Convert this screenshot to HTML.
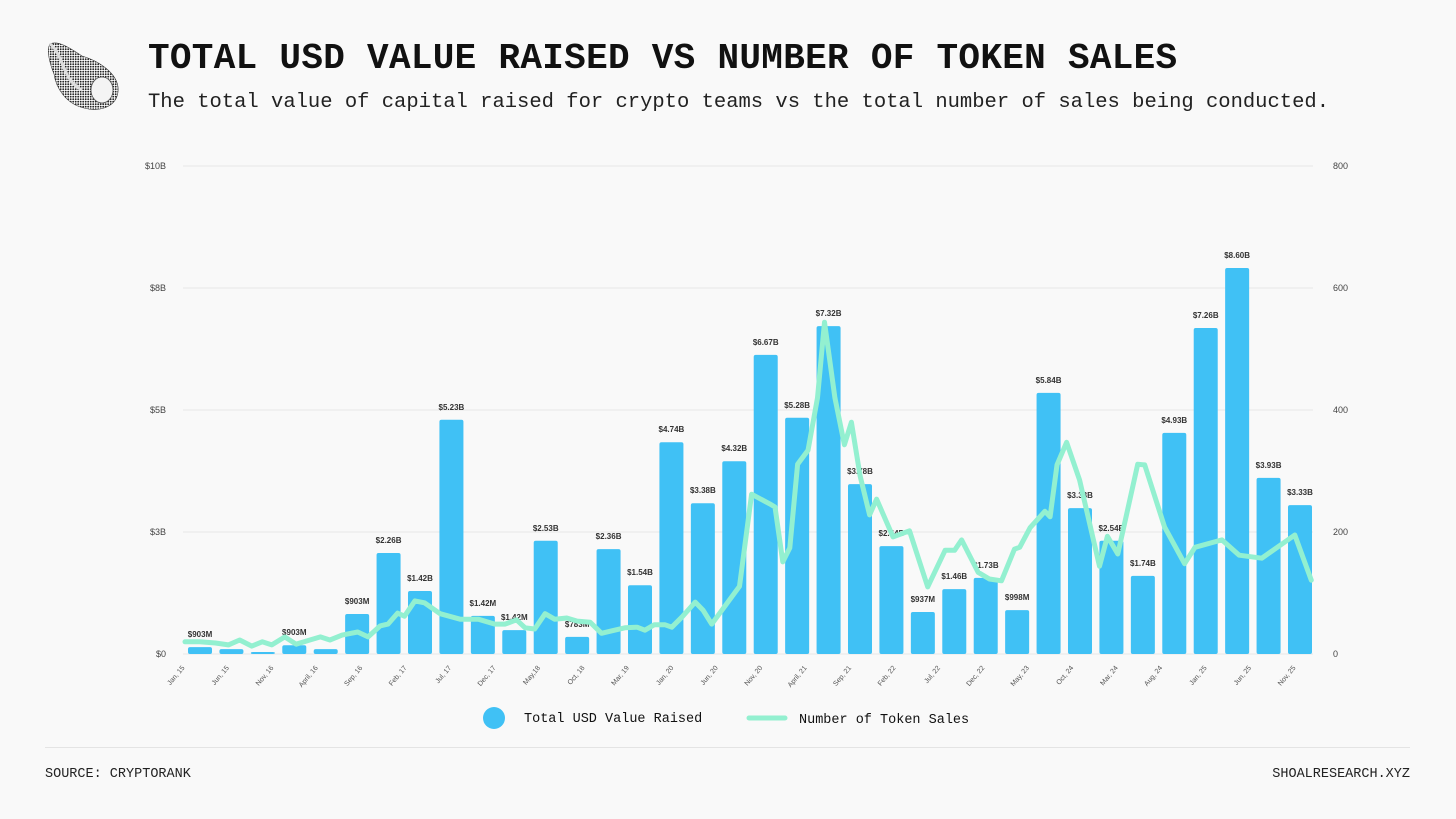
<!DOCTYPE html>
<html><head><meta charset="utf-8"><style>
html,body{margin:0;padding:0;background:#f9f9f9;}
body{width:1456px;height:819px;position:relative;overflow:hidden;font-family:"Liberation Mono",monospace;color:#111;}
.title{position:absolute;left:148px;top:38px;font-size:36px;font-weight:bold;letter-spacing:0.3px;white-space:nowrap;}
.sub{position:absolute;left:148px;top:91px;font-size:20.5px;white-space:nowrap;color:#222;}
.foot{position:absolute;top:767px;font-size:13.5px;color:#222;}
</style></head><body>
<svg style="position:absolute;left:42px;top:38px" width="80" height="75" viewBox="0 0 80 75">
<defs><pattern id="dots" width="2.5" height="2.5" patternUnits="userSpaceOnUse"><circle cx="1.2" cy="1.2" r="0.9" fill="#222"/></pattern></defs>
<path d="M8 6 C16 2 28 10 40 18 C60 24 78 38 76 54 C74 70 56 74 42 70 C24 66 14 50 12 36 C8 26 4 12 8 6Z" fill="url(#dots)" stroke="#333" stroke-width="0.6"/>
<path d="M8 6 C14 10 18 20 22 30 C26 40 32 48 40 52" fill="none" stroke="#ddd" stroke-width="3"/>
<ellipse cx="60" cy="52" rx="11" ry="13" fill="#f4f4f4" stroke="#555" stroke-width="0.8"/>
</svg>
<div class="title">TOTAL USD VALUE RAISED VS NUMBER OF TOKEN SALES</div>
<div class="sub">The total value of capital raised for crypto teams vs the total number of sales being conducted.</div>
<svg id="chart" style="position:absolute;left:0;top:0" width="1456" height="819"></svg>
<div style="position:absolute;left:45px;top:747px;width:1365px;height:1px;background:#e4e4e4"></div>
<div class="foot" style="left:45px">SOURCE: CRYPTORANK</div>
<div class="foot" style="right:46px">SHOALRESEARCH.XYZ</div>
<script>
const barValues=[0.14,0.10,0.04,0.18,0.10,0.82,2.07,1.29,4.80,0.78,0.49,2.32,0.35,2.15,1.41,4.34,3.09,3.95,6.13,4.84,6.72,3.48,2.21,0.86,1.33,1.56,0.90,5.35,2.99,2.32,1.60,4.53,6.68,7.91,3.61,3.05];
const barLabels=["$903M","","","$903M","","$903M","$2.26B","$1.42B","$5.23B","$1.42M","$1.42M","$2.53B","$783M","$2.36B","$1.54B","$4.74B","$3.38B","$4.32B","$6.67B","$5.28B","$7.32B","$3.78B","$2.44B","$937M","$1.46B","$1.73B","$998M","$5.84B","$3.33B","$2.54B","$1.74B","$4.93B","$7.26B","$8.60B","$3.93B","$3.33B"];
const lineMonths=[0,1.7,3.5,5,6.3,7.7,8.9,10,11.5,12.8,14.4,15.6,16.7,18.1,19.9,21.1,22.5,23.4,24.5,25.3,26.5,27.6,29.4,31.7,33.8,35.7,36.9,38.2,39.2,40.3,41.5,42.6,44,45.2,46.7,48,49.2,50.7,52.1,53,54.1,55.3,56.1,57.3,58.8,59.7,60.7,63.9,65.3,67.4,68,68.9,69.7,70.6,71.8,72.9,73.7,74.9,76,76.8,77.8,78.9,79.7,81.6,83.5,85.6,87.6,88.7,89.5,91.4,92.7,94.1,95.6,96.2,97.4,99.1,99.7,100.5,101.6,103.1,105.4,106.3,107.5,109.8,110.6,112.9,115.2,116.4,119.5,121.5,124.1,127.9,129.8];
const lineValues=[20,20,18,15,23,13,20,15,28,16,23,28,23,31,36,28,46,49,67,62,87,84,66,57,57,49,49,56,43,41,66,57,59,54,52,34,38,43,44,39,48,48,44,61,85,72,49,111,262,246,241,151,174,311,334,420,544,420,343,380,292,228,254,192,202,110,170,170,187,134,123,120,172,175,207,234,225,310,347,285,144,193,164,311,310,208,148,175,187,162,157,195,121];
const xLabels=["Jan, 15","Jun, 15","Nov, 16","April, 16","Sep, 16","Feb, 17","Jul, 17","Dec, 17","May,18","Oct, 18","Mar, 19","Jan, 20","Jun, 20","Nov, 20","April, 21","Sep, 21","Feb, 22","Jul, 22","Dec, 22","May, 23","Oct, 24","Mar, 24","Aug, 24","Jan, 25","Jun, 25","Nov, 25"];
const leftTicks=["$0","$3B","$5B","$8B","$10B"];
const rightTicks=["0","200","400","600","800"];

const svg=document.getElementById('chart');const NS='http://www.w3.org/2000/svg';
function mk(t,a,p){const e=document.createElementNS(NS,t);for(const k in a)e.setAttribute(k,a[k]);(p||svg).appendChild(e);return e;}
const y0=654,y1=166;
const yL=v=>y0-(v/10)*(y0-y1);
const yR=v=>y0-(v/800)*(y0-y1);
const xBar=i=>200+i*(1100/(barValues.length-1));
const xMonth=m=>185+m*(1128/130);
for(let i=0;i<leftTicks.length;i++){
 const y=y0-i*(y0-y1)/(leftTicks.length-1);
 const g=mk('line',{x1:183,x2:1313,y1:y,y2:y,stroke:'#e6e6e6','stroke-width':1});
 
 
 const t=mk('text',{x:166,y:y+3,'text-anchor':'end','font-size':9,fill:'#444','font-family':'Liberation Sans, sans-serif'});t.textContent=leftTicks[i];
 
 
 const r=mk('text',{x:1333,y:y+3,'font-size':9,fill:'#444','font-family':'Liberation Sans, sans-serif'});r.textContent=rightTicks[i];
 
 
}
barValues.forEach((v,i)=>{
 const x=xBar(i),y=yL(v);
 const b=mk('rect',{x:x-12,y:y,width:24,height:y0-y,rx:2,fill:'#40c1f5'});
 
 
 if(barLabels[i]){const t=mk('text',{x:x,y:y-10,'text-anchor':'middle','font-size':8,'font-weight':'bold',fill:'#333','font-family':'Liberation Sans, sans-serif'});t.textContent=barLabels[i];
 
 }
});
const pts=lineMonths.map((m,i)=>xMonth(m).toFixed(1)+','+yR(lineValues[i]).toFixed(1)).join(' ');
const pl=mk('polyline',{points:pts,fill:'none',stroke:'#93f0d0','stroke-width':5,'stroke-linejoin':'round','stroke-linecap':'round'});


xLabels.forEach((l,i)=>{
 const x=185+i*(1111/(xLabels.length-1)),y=668;
 const t=mk('text',{x:x,y:y,'text-anchor':'end','font-size':7,fill:'#555','font-family':'Liberation Sans, sans-serif',transform:`rotate(-50 ${x} ${y})`});t.textContent=l;
 
 
});
const lc=mk('circle',{cx:494,cy:718,r:11,fill:'#40c1f5'});


const lt=mk('text',{x:524,y:722,'font-size':13.5,fill:'#111','font-family':'Liberation Mono, monospace'});lt.textContent='Total USD Value Raised';


const ll=mk('line',{x1:749,x2:785,y1:718,y2:718,stroke:'#93f0d0','stroke-width':5,'stroke-linecap':'round'});


const lt2=mk('text',{x:799,y:723,'font-size':13.5,fill:'#111','font-family':'Liberation Mono, monospace'});lt2.textContent='Number of Token Sales';


</script>
</body></html>
